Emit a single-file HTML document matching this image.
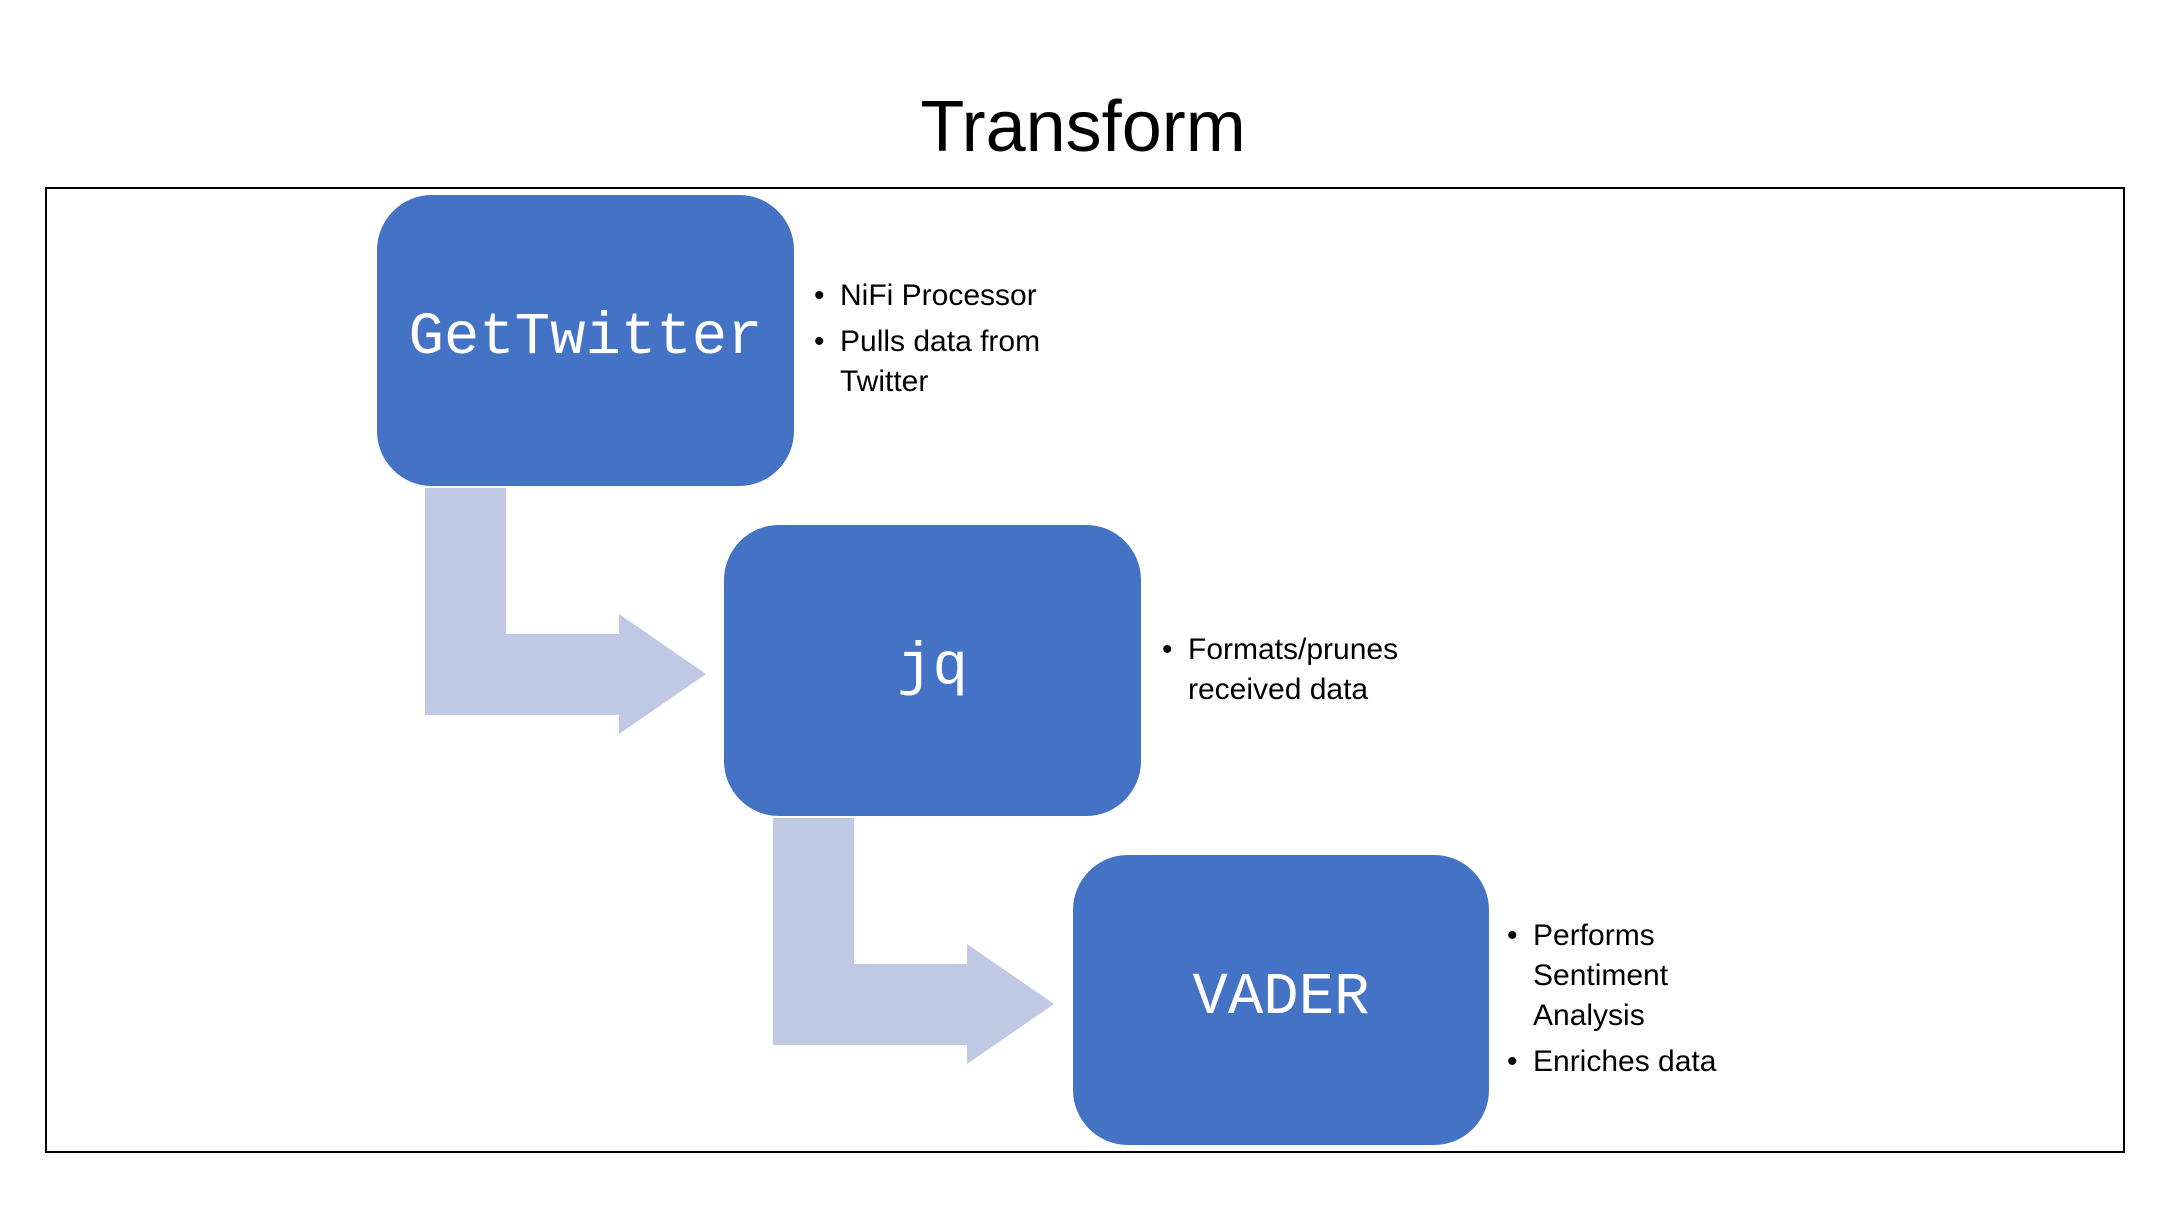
<!DOCTYPE html>
<html><head><style>
body{margin:0;width:2160px;height:1215px;background:#fff;position:relative;overflow:hidden;font-family:"Liberation Sans",sans-serif;}
.title{position:absolute;left:0;width:2166px;top:86px;text-align:center;font-size:72px;color:#000;}
.frame{position:absolute;left:45px;top:187px;width:2080px;height:966px;border:2px solid #000;box-sizing:border-box;}
.box{position:absolute;background:#4472C4;border-radius:55px;color:#fff;font-family:"Liberation Mono",monospace;font-size:59px;display:flex;align-items:center;justify-content:center;}
.t{position:absolute;font-size:30px;color:#000;line-height:40px;}
.t .b{position:absolute;left:-26px;}
</style></head><body>
<div class="title">Transform</div>
<div class="frame"></div>
<svg width="2160" height="1215" style="position:absolute;left:0;top:0">
<polygon fill="#BFC9E3" points="425,488 506,488 506,634 619,634 619,614 706,674 619,734 619,715 425,715"/>
<polygon fill="#BFC9E3" points="773,818 854,818 854,964 967,964 967,944 1054,1004 967,1064 967,1045 773,1045"/>
</svg>
<div class="box" style="left:377px;top:195px;width:417px;height:291px;padding-bottom:6px;box-sizing:border-box;">GetTwitter</div>
<div class="box" style="left:724px;top:525px;width:417px;height:291px;padding-bottom:6px;box-sizing:border-box;">jq</div>
<div class="box" style="left:1073px;top:855px;width:416px;height:290px;padding-bottom:6px;box-sizing:border-box;">VADER</div>
<div class="t" style="left:840px;top:276px;"><span class="b">•</span>NiFi Processor</div>
<div class="t" style="left:840px;top:322px;"><span class="b">•</span>Pulls data from<br>Twitter</div>
<div class="t" style="left:1188px;top:630px;"><span class="b">•</span>Formats/prunes<br>received data</div>
<div class="t" style="left:1533px;top:916px;"><span class="b">•</span>Performs<br>Sentiment<br>Analysis</div>
<div class="t" style="left:1533px;top:1042px;"><span class="b">•</span>Enriches data</div>
</body></html>
